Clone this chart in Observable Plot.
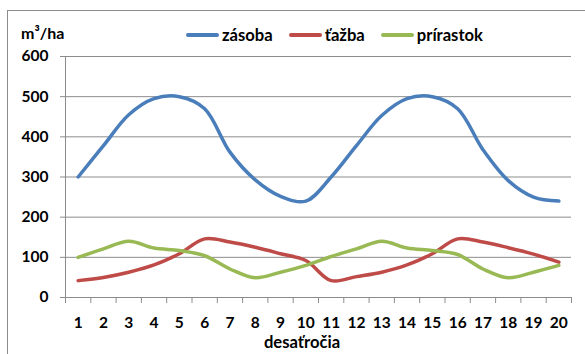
<!DOCTYPE html>
<html>
<head>
<meta charset="utf-8">
<script src="https://cdn.jsdelivr.net/npm/d3@7"></script>
<script src="https://cdn.jsdelivr.net/npm/@observablehq/plot@0.6"></script>
<style>
  html, body { margin: 0; padding: 0; background: #fff; }
  #figure { position: relative; width: 585px; height: 354px; overflow: hidden; font-family: Lato, "Open Sans", sans-serif; font-weight: 700; color: #000; }
  #frame { position: absolute; left: 7px; top: 10px; width: 620px; height: 380px; border: 1px solid #8c8c8c; box-sizing: border-box; }
  #chart { position: absolute; left: 0; top: 0; }
  #unit { position: absolute; left: 21px; top: 24px; font-size: 16px; line-height: 18px; }
  #legend { position: absolute; left: 186px; top: 26px; display: flex; align-items: center; font-size: 16.6px; line-height: 18px; }
  .item { display: flex; align-items: center; margin-right: 16px; }
  .swatch { width: 33px; height: 3.5px; margin-right: 3px; border-radius: 2px; }
  #xlabel { position: absolute; left: 302px; top: 333px; transform: translateX(-50%); font-size: 16.6px; line-height: 18px; }
</style>
</head>
<body>
<div id="figure">
  <div id="frame"></div>
  <div id="chart"></div>
  <div id="unit">m³/ha</div>
  <div id="legend"></div>
  <div id="xlabel">desaťročia</div>
</div>
<script>
// Decades on the horizontal axis
const decades = [1, 2, 3, 4, 5, 6, 7, 8, 9, 10, 11, 12, 13, 14, 15, 16, 17, 18, 19, 20];
// Growing stock, harvest and increment in m³/ha
const zasoba = [300, 378, 455, 495, 500, 470, 362, 293, 252, 240, 300, 378, 453, 495, 500, 470, 368, 291, 250, 240];
const tazba = [42, 50, 63, 81, 109, 146, 138, 125, 109, 92, 42, 52, 63, 81, 109, 146, 138, 124, 108, 88];
const prirastok = [100, 121, 140, 123, 117, 104, 71, 49, 63, 80, 102, 121, 140, 123, 117, 107, 71, 49, 63, 80];
const yTicks = [0, 100, 200, 300, 400, 500, 600];

const seriesNames = ["zásoba", "ťažba", "prírastok"];
const seriesColors = ["#4a7ebb", "#be4b48", "#98b954"];
const seriesValues = [zasoba, tazba, prirastok];

const rows = seriesNames.flatMap((name, i) =>
  decades.map((d, j) => ({decade: d, value: seriesValues[i][j], series: name}))
);

// Tick marks sit on the borders between decades
const borders = [...decades.map(d => d - 0.5), decades[decades.length - 1] + 0.5];
const gray = "#8c8c8c";

const chart = Plot.plot({
  width: 585,
  height: 354,
  marginLeft: 65,
  marginRight: 14,
  marginTop: 56,
  marginBottom: 57,
  x: {type: "linear", domain: [borders[0], borders[borders.length - 1]]},
  y: {domain: [0, 600]},
  color: {domain: seriesNames, range: seriesColors},
  style: {fontFamily: "Lato, 'Open Sans', sans-serif", fontWeight: "700", fontSize: "15px", color: "#000", background: "transparent", overflow: "visible"},
  marks: [
    Plot.gridY(yTicks, {stroke: gray, strokeOpacity: 1, strokeWidth: 1}),
    Plot.ruleX([borders[0]], {stroke: gray, strokeWidth: 1}),
    Plot.axisY(yTicks, {tickSize: 5, tickPadding: 12, stroke: gray, label: null, fontSize: 15.5}),
    Plot.axisX(borders, {tickSize: 6, tickFormat: () => "", stroke: gray, label: null}),
    Plot.axisX(decades, {tickSize: 0, tickPadding: 19, label: null, fontSize: 15.5, tickFormat: d => String(d)}),
    Plot.line(rows, {x: "decade", y: "value", z: "series", stroke: "series", strokeWidth: 3.5, curve: "catmull-rom"})
  ]
});
document.getElementById("chart").appendChild(chart);

// Legend built from the same series names and colours
const legend = document.getElementById("legend");
seriesNames.forEach((name, i) => {
  const item = document.createElement("div");
  item.className = "item";
  const sw = document.createElement("span");
  sw.className = "swatch";
  sw.style.background = seriesColors[i];
  const label = document.createElement("span");
  label.textContent = name;
  item.appendChild(sw);
  item.appendChild(label);
  legend.appendChild(item);
});
</script>
</body>
</html>
